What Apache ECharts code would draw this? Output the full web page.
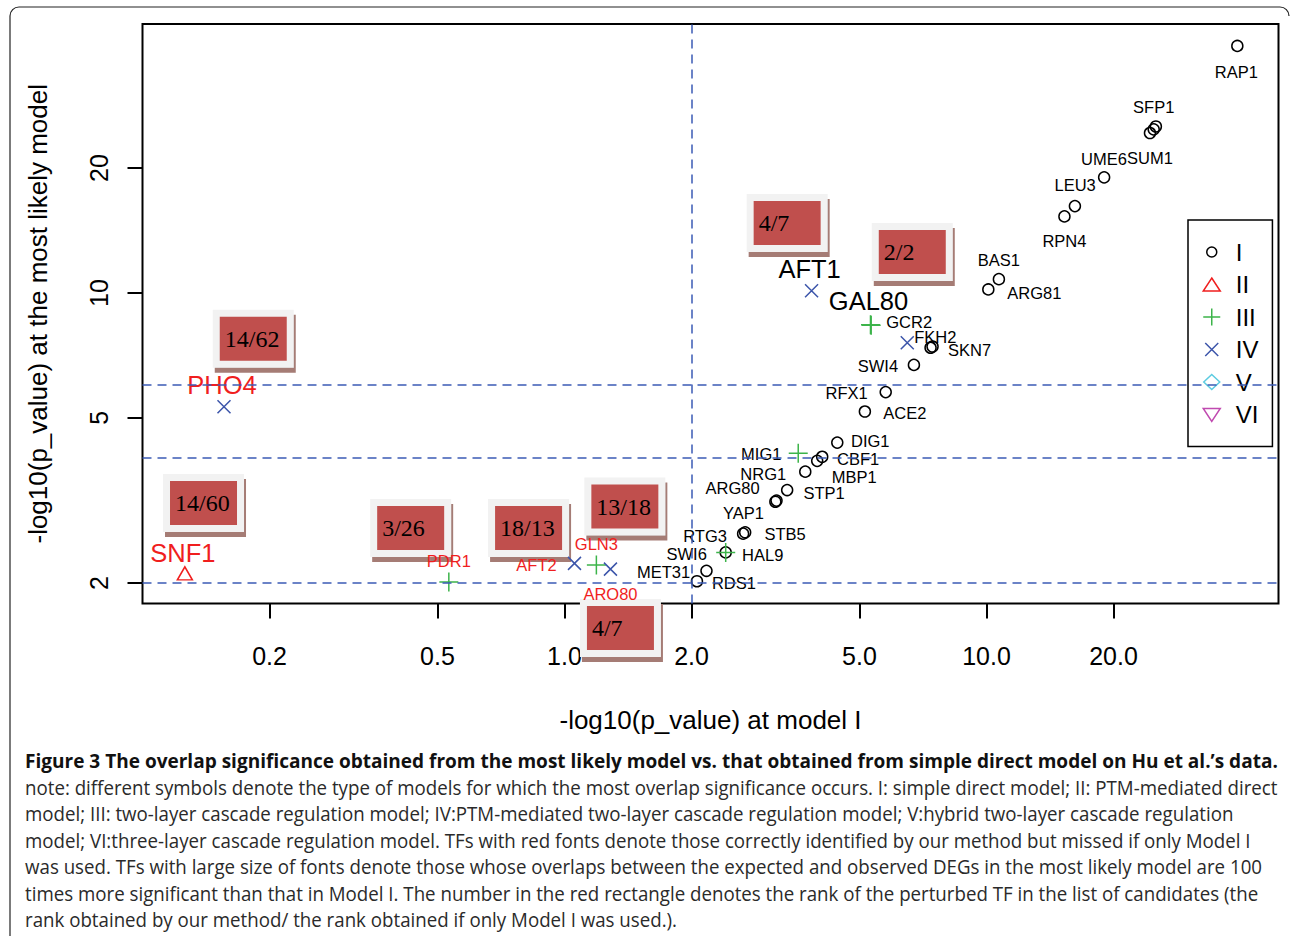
<!DOCTYPE html>
<html>
<head>
<meta charset="utf-8">
<script src="https://cdn.jsdelivr.net/npm/echarts@6/dist/echarts.min.js"></script>
<style>
html,body{margin:0;padding:0;background:#fff;}
#chart{width:1290px;height:936px;}
</style>
</head>
<body>
<div id="chart"></div>
<script>
// ---------------- data ----------------
const xAxisRange = [0.1, 49.2];
const yAxisRange = [1.785, 44.5];
const xTicks = [0.2, 0.5, 1, 2, 5, 10, 20];
const yTicks = [2, 5, 10, 20];
const xCutoffs = [2];
const yCutoffs = [2, 4, 6];

// Model I (simple direct model)
const modelI_names = ['RAP1','SFP1','SUM1','UME6','LEU3','','RPN4','BAS1','ARG81','SKN7','','SWI4','RFX1','ACE2','DIG1','CBF1','MBP1','NRG1','STP1','ARG80','YAP1','RTG3','STB5','SWI6','MET31','RDS1'];
const modelI_x = [39.3,24.9,25.2,24.4,19.0,16.2,15.3,10.7,10.1,7.37,7.45,6.73,5.77,5.15,4.43,4.08,3.97,3.72,3.37,3.18,3.16,2.65,2.68,2.41,2.17,2.06];
const modelI_y = [39.4,24.8,25.2,24.3,19.0,16.2,15.3,10.8,10.2,7.38,7.43,6.71,5.77,5.18,4.36,4.03,3.94,3.71,3.35,3.16,3.14,2.63,2.65,2.37,2.14,2.02];

// Model II (PTM-mediated direct)
const modelII_names = ['SNF1'];
const modelII_x = [0.126];
const modelII_y = [2.11];

// Model III (two-layer cascade)
const modelIII_names = ['PDR1','GLN3','HAL9','MIG1','GAL80','GCR2'];
const modelIII_x = [0.532,1.19,2.41,3.58,5.31,5.33];
const modelIII_y = [2.01,2.21,2.37,4.11,8.38,8.36];

// Model IV (PTM-mediated two-layer cascade)
const modelIV_names = ['PHO4','AFT2','ARO80','AFT1','FKH2'];
const modelIV_x = [0.156,1.056,1.285,3.85,6.49];
const modelIV_y = [5.32,2.23,2.16,10.13,7.59];

// Models V and VI: no points
const modelV_names = [], modelV_x = [], modelV_y = [];
const modelVI_names = [], modelVI_x = [], modelVI_y = [];

// TFs shown in red / in large font
const redNames = ['SNF1','PHO4','PDR1','AFT2','GLN3','ARO80'];
const bigNames = ['SNF1','PHO4','AFT1','GAL80'];

// rank rectangles (rank by our method / rank with Model I only)
const rankText = ['14/62','14/60','3/26','18/13','13/18','4/7','4/7','2/2'];
const rankX = [0.183,0.1395,0.432,0.822,1.39,1.357,3.37,6.67];
const rankY = [7.76,3.12,2.715,2.715,3.056,1.559,14.75,12.56];

const legendNames = ['I','II','III','IV','V','VI'];

const xTitle = '-log10(p_value) at model I';
const yTitle = '-log10(p_value) at the most likely model';
const captionBold = 'Figure 3 The overlap significance obtained from the most likely model vs. that obtained from simple direct model on Hu et al.\u2019s data.';
const captionLines = [
 'note: different symbols denote the type of models for which the most overlap significance occurs. I: simple direct model; II: PTM-mediated direct',
 'model; III: two-layer cascade regulation model; IV:PTM-mediated two-layer cascade regulation model; V:hybrid two-layer cascade regulation',
 'model; VI:three-layer cascade regulation model. TFs with red fonts denote those correctly identified by our method but missed if only Model I',
 'was used. TFs with large size of fonts denote those whose overlaps between the expected and observed DEGs in the most likely model are 100',
 'times more significant than that in Model I. The number in the red rectangle denotes the rank of the perturbed TF in the list of candidates (the',
 'rank obtained by our method/ the rank obtained if only Model I was used.).'
];

// ---------------- styling / layout ----------------
const labelOffsets = {
 RAP1:[-1,26], SFP1:[0,-22], UME6:[-46,26], SUM1:[-6,32], LEU3:[-29,8], RPN4:[0,25],
 BAS1:[0,-19], ARG81:[46,4], SKN7:[39,2], SWI4:[-36,1], RFX1:[-39,1], ACE2:[40,1],
 DIG1:[33,-2], CBF1:[36,2], MBP1:[37,16], NRG1:[-42,2], STP1:[37,3], ARG80:[-44,-13],
 YAP1:[-32,11], RTG3:[-38,2], STB5:[40,2], SWI6:[-39,2], MET31:[-43,1], RDS1:[37,2],
 SNF1:[-2,-20], PDR1:[0,-21], GLN3:[0,-21], HAL9:[37,3], MIG1:[-37,1], GAL80:[-2,-24],
 GCR2:[38,-3], PHO4:[-2,-22], AFT2:[-38,2], ARO80:[0,25], AFT1:[-2,-22], FKH2:[28,-6]
};
const RED = '#f01e1e';
const typeColors = ['#000000', RED, '#3cb44a', '#3c55aa', '#5ccbe0', '#c04ab0'];
const PLUS = 'path://M0,10L20,10M10,0L10,20';
const CROSS = 'path://M0,0L20,20M20,0L0,20';
const legendIcons = [
 'path://M0,0M18,18M4,9A5,5,0,1,1,14,9A5,5,0,1,1,4,9Z',
 'path://M0,0M18,18M9,2.5L17.5,15.5L0.5,15.5Z',
 'path://M0,0M18,18M0.5,9L17.5,9M9,0.5L9,17.5',
 'path://M0,0M18,18M2.5,2.5L15.5,15.5M15.5,2.5L2.5,15.5',
 'path://M0,0M18,18M9,1.5L17,9L9,16.5L1,9Z',
 'path://M0,0M18,18M0.5,3L17.5,3L9,16Z'
];
const SANS = '"Liberation Sans", Arial, sans-serif';

function makeSeries(name, symbol, size, color, names, xs, ys) {
  return {
    type: 'scatter', name: name, symbol: symbol, symbolSize: size, clip: false, silent: true, z: 3,
    itemStyle: {color: 'rgba(0,0,0,0)', borderColor: color, borderWidth: 1.5, opacity: 1},
    label: {show: true, position: 'inside', formatter: '{b}', color: '#000', fontSize: 16.5, lineHeight: 13,
            fontFamily: SANS, textBorderWidth: 0, opacity: 1},
    data: names.map((n, i) => {
      const big = bigNames.indexOf(n) >= 0, red = redNames.indexOf(n) >= 0;
      return {name: n, value: [xs[i], ys[i]],
        label: {show: n !== '', offset: labelOffsets[n] || [0, 0], color: red ? RED : '#000',
                fontSize: big ? 25.5 : 16.5, lineHeight: big ? 22 : 13, opacity: 1}};
    })
  };
}

const series = [
  makeSeries('I', 'circle', 11, typeColors[0], modelI_names, modelI_x, modelI_y),
  makeSeries('II', 'triangle', [15, 13], typeColors[1], modelII_names, modelII_x, modelII_y),
  makeSeries('III', PLUS, 19, typeColors[2], modelIII_names, modelIII_x, modelIII_y),
  makeSeries('IV', CROSS, 13, typeColors[3], modelIV_names, modelIV_x, modelIV_y),
  makeSeries('V', 'diamond', 15, typeColors[4], modelV_names, modelV_x, modelV_y),
  makeSeries('VI', 'path://M0,0L20,0L10,17Z', 15, typeColors[5], modelVI_names, modelVI_x, modelVI_y)
];

// threshold dashed lines
series[0].markLine = {
  silent: true, symbol: ['none', 'none'], label: {show: false}, animation: false,
  lineStyle: {type: [9, 6], color: '#3b5bb5', width: 1.5, opacity: 1},
  data: xCutoffs.map(v => ({xAxis: v})).concat(yCutoffs.map(v => ({yAxis: v})))
};

// rank rectangles (drawn beneath the point labels)
series.push({
  type: 'scatter', name: 'rank', symbolSize: 0, clip: false, silent: true, z: 1,
  itemStyle: {opacity: 1},
  data: rankText.map((t, i) => ({name: t, value: [rankX[i], rankY[i]]})),
  label: {show: true, position: 'inside', formatter: '{b}', align: 'left', verticalAlign: 'middle',
    offset: [-33.5, 0], width: 62, height: 44, lineHeight: 44, padding: [0, 0, 0, 5], opacity: 1,
    fontFamily: '"Liberation Serif", "Times New Roman", serif', fontSize: 24, color: '#000',
    backgroundColor: '#c0504d', borderColor: '#f2f2f2', borderWidth: 7,
    shadowColor: '#a57b74', shadowOffsetX: 2, shadowOffsetY: 5, shadowBlur: 0, textBorderWidth: 0}
});

// caption
function measure(text, font) {
  const c = document.createElement('canvas').getContext('2d');
  c.font = font; return c.measureText(text).width;
}
const capFont = '20px "Open Sans"';
const capBoldFont = 'bold 20px "Open Sans"';
const capScale = 1253 / measure(captionLines[0], capFont);
const capBoldScale = 1253 / measure(captionBold, capBoldFont);
const captionY = [787, 813, 840, 866, 893, 919];
const graphics = [
  {type: 'text', x: 25, y: 760, scaleX: capBoldScale, silent: true,
   style: {text: captionBold, font: capBoldFont, fill: '#111', verticalAlign: 'middle', align: 'left'}}
].concat(captionLines.map((t, i) => ({
   type: 'text', x: 25, y: captionY[i], scaleX: capScale, silent: true,
   style: {text: t, font: capFont, fill: '#2a2a2a', verticalAlign: 'middle', align: 'left'}})))
.concat([
  {type: 'line', silent: true, shape: {x1: 19, y1: 7, x2: 1280, y2: 7}, style: {stroke: '#222', lineWidth: 1.2}},
  {type: 'line', silent: true, shape: {x1: 10, y1: 16, x2: 10, y2: 936}, style: {stroke: '#222', lineWidth: 1.2}},
  {type: 'arc', silent: true, shape: {cx: 19, cy: 16, r: 9, startAngle: Math.PI, endAngle: Math.PI * 1.5}, style: {stroke: '#222', lineWidth: 1.2, fill: null}},
  {type: 'arc', silent: true, shape: {cx: 1280, cy: 16, r: 9, startAngle: Math.PI * 1.5, endAngle: Math.PI * 2}, style: {stroke: '#222', lineWidth: 1.2, fill: null}}
]);

const chart = echarts.init(document.getElementById('chart'), null, {renderer: 'svg', width: 1290, height: 936});
chart.setOption({
  animation: false,
  backgroundColor: '#fff',
  grid: {left: 142.5, right: 11.5, top: 24, bottom: 332.5, show: true, borderColor: '#000', borderWidth: 2,
         containLabel: false, outerBoundsMode: 'none'},
  xAxis: {
    type: 'log', logBase: 10, min: xAxisRange[0], max: xAxisRange[1],
    axisLine: {show: false}, splitLine: {show: false},
    axisTick: {show: true, inside: false, length: 15, lineStyle: {color: '#000', width: 2}, customValues: xTicks},
    axisLabel: {customValues: xTicks, formatter: v => Number(v).toFixed(1), fontSize: 25, color: '#000',
                fontFamily: SANS, margin: 40},
    name: xTitle, nameLocation: 'middle', nameGap: 103,
    nameTextStyle: {fontSize: 26, color: '#000', fontFamily: SANS}
  },
  yAxis: {
    type: 'log', logBase: 10, min: yAxisRange[0], max: yAxisRange[1],
    axisLine: {show: false}, splitLine: {show: false},
    axisTick: {show: true, inside: false, length: 15, lineStyle: {color: '#000', width: 2}, customValues: yTicks},
    axisLabel: {customValues: yTicks, rotate: 90, formatter: v => String(Math.round(v)), fontSize: 25,
                color: '#000', fontFamily: SANS, margin: 31},
    name: yTitle, nameLocation: 'middle', nameRotate: 90, nameGap: 92,
    nameTextStyle: {fontSize: 26, color: '#000', fontFamily: SANS}
  },
  legend: {
    orient: 'vertical', left: 1188, top: 220, padding: [20, 14, 20, 14],
    itemWidth: 18, itemHeight: 18, itemGap: 8.5, selectedMode: false,
    borderColor: '#000', borderWidth: 1.5, backgroundColor: '#fff',
    textStyle: {fontSize: 24, color: '#000', fontFamily: SANS, padding: [0, 0, 0, 10]},
    data: legendNames.map((n, i) => ({name: n, icon: legendIcons[i],
      itemStyle: {color: 'rgba(0,0,0,0)', borderColor: typeColors[i], borderWidth: 1.5, opacity: 1}}))
  },
  series: series,
  graphic: graphics
});
</script>
</body>
</html>
